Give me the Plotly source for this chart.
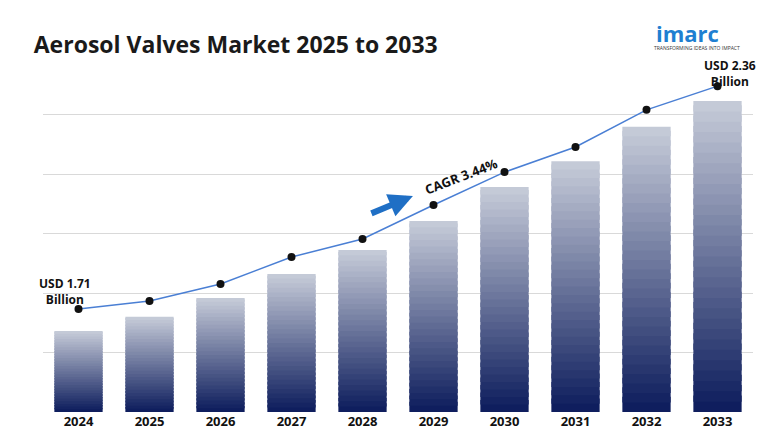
import plotly.graph_objects as go
import numpy as np

years = ["2024","2025","2026","2027","2028","2029","2030","2031","2032","2033"]
bar_values = [1.71, 1.750, 1.803, 1.871, 1.939, 2.021, 2.117, 2.190, 2.287, 2.36]
trend_values = [1.772, 1.795, 1.843, 1.919, 1.970, 2.066, 2.159, 2.230, 2.335, 2.402]
BASE = 1.481
N = 30
top_c = np.array([200, 205, 218]); bot_c = np.array([12, 28, 92])
xs = list(range(len(years)))

fig = go.Figure()
for k in range(N):
    f = (k + 0.5) / N  # from bottom
    c = bot_c + (top_c - bot_c) * f
    col = "rgb(%d,%d,%d)" % tuple(int(v) for v in c)
    ext = 1.0 if k == N - 1 else 1.6
    fig.add_bar(x=xs, y=[(v - BASE) / N * ext for v in bar_values],
                base=[BASE + (v - BASE) * k / N for v in bar_values], width=0.68,
                marker=dict(color=col, line=dict(width=0)), showlegend=False, hoverinfo="skip")
fig.add_scatter(x=xs, y=trend_values, mode="lines+markers",
                line=dict(color="#4a7fd4", width=1.5),
                marker=dict(color="#111111", size=8), showlegend=False)

fig.update_layout(
    width=780, height=440, barmode="overlay",
    margin=dict(l=35, r=35, t=47, b=36),
    plot_bgcolor="white", paper_bgcolor="white",
    font=dict(family="Open Sans", color="#111"),
    xaxis=dict(range=[-0.5, 9.5], showgrid=False, ticks="", zeroline=False,
               tickfont=dict(size=13, color="#111", family="Open Sans"),
               tickvals=xs, ticktext=["<b>%s</b>" % y for y in years]),
    yaxis=dict(range=[BASE, BASE + 357/353.8], tick0=BASE, dtick=0.168, showticklabels=False,
               showgrid=True, gridcolor="#d9d9d9", zeroline=False),
    title=dict(text="<b>Aerosol Valves Market 2025 to 2033</b>", x=0.033, y=0.935, xanchor="left",
               font=dict(size=23, color="#1a1a1a", family="Open Sans")),
    annotations=[
        dict(x=0, y=trend_values[0], text="<b>USD 1.71<br>Billion</b>", showarrow=False,
             xshift=-14, yshift=18, font=dict(size=12)),
        dict(x=9, y=trend_values[-1], text="<b>USD 2.36<br>Billion</b>", showarrow=False,
             xshift=12, yshift=13, font=dict(size=12)),
        dict(x=0.59, y=0.66, xref="paper", yref="paper", text="<b>CAGR 3.44%</b>", showarrow=False,
             textangle=-21, font=dict(size=13)),
        dict(x=0.521, y=0.605, ax=-43, ay=18, xref="paper", yref="paper", text="", showarrow=True,
             arrowhead=2, arrowsize=0.8, arrowwidth=6, arrowcolor="#1f6fc5"),
        dict(x=0.955, y=1.11, xref="paper", yref="paper", yanchor="top", xanchor="right",
             text="<b>imarc</b>", showarrow=False, font=dict(size=22, color="#1f7fd1")),
        dict(x=0.985, y=1.035, xref="paper", yref="paper", yanchor="top", xanchor="right",
             text="TRANSFORMING IDEAS INTO IMPACT", showarrow=False,
             font=dict(size=5, color="#333")),
    ],
)
fig.write_html("out.html")
